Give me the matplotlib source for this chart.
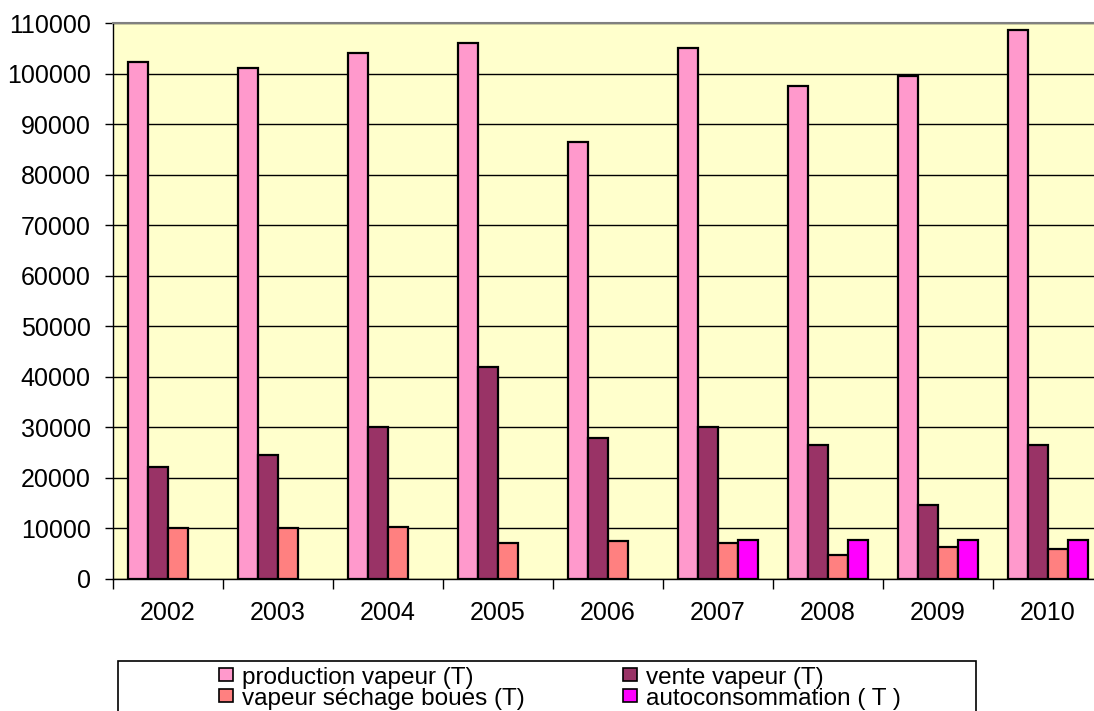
import matplotlib.pyplot as plt
from matplotlib.patches import Rectangle
import numpy as np

plt.rcParams['font.family'] = ['Liberation Sans', 'DejaVu Sans']

years = ['2002', '2003', '2004', '2005', '2006', '2007', '2008', '2009', '2010']
production = [102300, 101100, 104000, 106000, 86400, 105100, 97600, 99500, 108600]
vente = [22100, 24500, 30100, 42000, 27800, 30000, 26500, 14700, 26500]
sechage = [10000, 10000, 10200, 7100, 7500, 7100, 4700, 6300, 5900]
autoconso = [0, 0, 0, 0, 0, 7800, 7800, 7800, 7800]

series = [
    ('production vapeur (T)', production, '#FF99CC'),
    ('vente vapeur (T)', vente, '#993366'),
    ('vapeur séchage boues (T)', sechage, '#FF8080'),
    ('autoconsommation ( T )', autoconso, '#FF00FF'),
]

W, H = 1094, 711
fig = plt.figure(figsize=(W / 100, H / 100), dpi=100)
ax = fig.add_axes([113 / W, 1 - 579 / H, 990 / W, 556 / H])
ax.set_facecolor('#FFFFCC')

x = np.arange(len(years))
w = 1 / 5.5
handles = []
for k, (name, vals, col) in enumerate(series):
    vals = np.array(vals, dtype=float)
    mask = vals > 0
    b = ax.bar(x[mask] + (k - 1.5) * w, vals[mask], width=w, color=col,
               edgecolor='black', linewidth=1.6, zorder=3, label=name)
    handles.append(b)

ax.set_xlim(-0.5, len(years) - 0.5)
ax.set_ylim(0, 110000)
ax.set_yticks(np.arange(0, 110001, 10000))
ax.yaxis.grid(True, color='black', linewidth=1)
ax.set_axisbelow(True)

# year labels sit between the boundary ticks
ax.set_xticks(np.arange(len(years) + 1) - 0.5)
ax.set_xticklabels([])
ax.set_xticks(x, minor=True)
ax.set_xticklabels(years, minor=True)
ax.tick_params(axis='x', which='major', direction='out', length=7, width=1)
ax.tick_params(axis='x', which='minor', length=0, pad=16, labelsize=18)
ax.tick_params(axis='y', direction='out', length=6, width=1, pad=10, labelsize=18)

for side in ('top', 'right'):
    ax.spines[side].set_color('#808080')
    ax.spines[side].set_linewidth(1.5)
for side in ('left', 'bottom'):
    ax.spines[side].set_color('black')
    ax.spines[side].set_linewidth(1)

# legend box under the chart, partly cut by the bottom edge
fig.patches.append(Rectangle((118 / W, 1 - 720 / H), 858 / W, 59 / H,
                             transform=fig.transFigure, fill=False,
                             edgecolor='black', linewidth=1.2))
order = [handles[0], handles[2], handles[1], handles[3]]
leg = fig.legend(order, [h.get_label() for h in order], loc='upper left',
                 bbox_to_anchor=(204 / W, 1 - 652 / H), ncol=2, frameon=False,
                 fontsize=17.5, handlelength=0.58, handleheight=0.45, handletextpad=0.37,
                 labelspacing=-0.04, columnspacing=4.06, borderpad=0.1)
for h in leg.legend_handles:
    h.set_linewidth(1.2)

plt.savefig('out.png', dpi=100)
